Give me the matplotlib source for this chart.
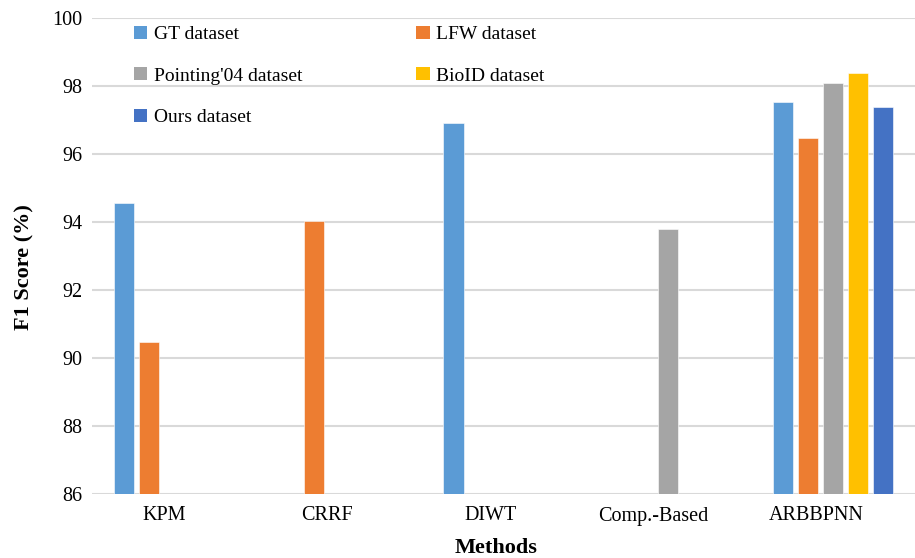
import numpy as np
import matplotlib.pyplot as plt
from matplotlib.patches import Patch

plt.rcParams['font.family'] = ['Liberation Serif', 'DejaVu Serif']

# F1 scores per method (nan = not reported)
methods = ['KPM', 'CRRF', 'DIWT', 'Comp.-Based', 'ARBBPNN']
datasets = ['GT dataset', 'LFW dataset', "Pointing'04 dataset", 'BioID dataset', 'Ours dataset']
gt        = [94.56, np.nan, 96.92, np.nan, 97.54]
lfw       = [90.48, 94.04, np.nan, np.nan, 96.46]
pointing  = [np.nan, np.nan, np.nan, 93.78, 98.09]
bioid     = [np.nan, np.nan, np.nan, np.nan, 98.38]
ours      = [np.nan, np.nan, np.nan, np.nan, 97.38]
series = [gt, lfw, pointing, bioid, ours]
colors = ['#5B9BD5', '#ED7D31', '#A5A5A5', '#FFC000', '#4472C4']

fig = plt.figure(figsize=(9.15, 5.58), dpi=100)
ax = fig.add_axes([92/915, 1 - 494/558, 1 - 92/915, (494 - 18)/558])

x = np.arange(len(methods))
width = 0.122
step = 0.152
for k, (vals, c) in enumerate(zip(series, colors)):
    vals = np.array(vals, dtype=float)
    ok = ~np.isnan(vals)
    ax.bar(x[ok] + (k - 2)*step, vals[ok] - 86, width, bottom=86, color=c,
           edgecolor='white', linewidth=0.4, zorder=3)

ax.set_xlim(-0.5, len(methods) - 0.5)
ax.set_ylim(86, 100)
ax.set_yticks(np.arange(86, 101, 2))
# category labels sit a little left of the group centres
ax.set_xticks(x*0.99 - 0.06)
ax.set_xticklabels(methods)

ax.grid(axis='y', color='#d9d9d9', linewidth=1.5, zorder=0)
for s in ax.spines.values():
    s.set_visible(False)
ax.tick_params(axis='both', length=0, labelsize=14.5)
ax.tick_params(axis='x', pad=9)
ax.tick_params(axis='y', pad=7)

ax.set_ylabel('F1 Score (%)', fontsize=16, fontweight='bold', labelpad=13, y=0.477)
ax.set_xlabel('Methods', fontsize=16, fontweight='bold', labelpad=9, x=0.491)

handles = [Patch(facecolor=c, label=d) for c, d in zip(colors, datasets)]
order = [0, 2, 4, 1, 3]
ax.legend([handles[i] for i in order], [datasets[i] for i in order],
          ncol=2, frameon=False, fontsize=14, loc='upper left',
          bbox_to_anchor=(0.030, 1.021), handlelength=0.68, handleheight=0.68,
          handletextpad=0.35, labelspacing=1.24, columnspacing=5.85)

fig.savefig('out.png', dpi=100)
